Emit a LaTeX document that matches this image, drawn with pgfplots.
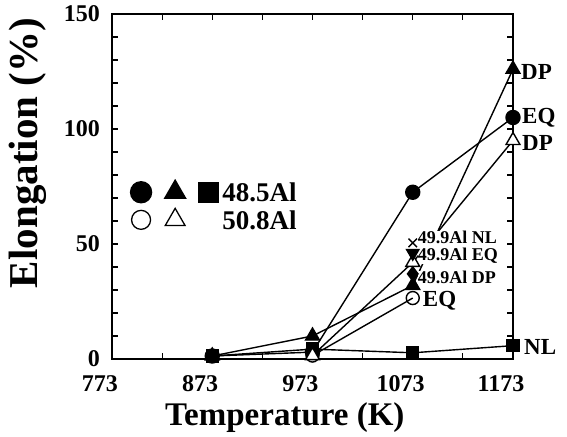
\documentclass[border=0pt]{standalone}
\usepackage{fontspec}
\setmainfont{Liberation Serif}
\usepackage{pgfplots}
\pgfplotsset{compat=1.18}
\begin{document}
\begin{tikzpicture}
\begin{axis}[
  name=ax,
  scale only axis,
  width=401pt, height=345pt,
  xmin=773, xmax=1173, ymin=0, ymax=150,
  xtick={773,873,973,1073,1173},
  ytick={0,50,100,150},
  minor x tick num=1,
  minor y tick num=4,
  tick align=inside,
  major tick length=6pt, minor tick length=6pt,
  axis line style={line width=1.6pt},
  every tick/.style={line width=1.2pt, black},
  /pgf/number format/assume math mode=true,
  /pgf/number format/1000 sep={},
  tick label style={font=\fontsize{24}{24}\selectfont\bfseries, inner sep=0pt},
  xticklabel style={anchor=north, yshift=-16pt, xshift=-12pt},
  yticklabel style={anchor=east, xshift=-12pt},
  xlabel={Temperature (K)},
  ylabel={Elongation (\%)},
  xlabel style={font=\fontsize{33}{33}\selectfont\bfseries, at={(axis description cs:0.431,-0.171)}, anchor=center, inner sep=0pt},
  ylabel style={font=\fontsize{41}{41}\selectfont\bfseries, at={(axis description cs:-0.21,0.597)}, anchor=center, inner sep=0pt},
  clip=false,
  every axis plot/.append style={line width=1.4pt, black},
]
% 48.5Al EQ (filled circle)
\addplot[mark=*, mark size=7pt, mark options={fill=black}] coordinates {(873,1.3) (973,3) (1073,72.5) (1173,105)};
% 48.5Al DP (filled triangle)
\addplot[mark=triangle*, mark size=8pt, mark options={fill=black}] coordinates {(873,1.3) (973,10) (1073,32) (1173,126)};
% 48.5Al NL (filled square)
\addplot[mark=square*, mark size=6pt, mark options={fill=black}] coordinates {(873,1.3) (973,4.3) (1073,2.7) (1173,5.8)};
% 50.8Al EQ (open circle)
\addplot[mark=o, mark size=6.5pt, mark options={fill=white}] coordinates {(973,1.5) (1073,26.5)};
% 50.8Al DP (open triangle)
\addplot[mark=triangle*, mark size=8pt, mark options={fill=white}] coordinates {(973,1.5) (1073,42) (1173,95)};
% 49.9Al points
\addplot[only marks, mark=x, mark size=6pt] coordinates {(1073,50.5)};
\addplot[only marks, mark=triangle*, mark size=7pt, mark options={fill=black, rotate=180}] coordinates {(1073,46)};
\addplot[only marks, mark=diamond*, mark size=7pt, mark options={fill=black}] coordinates {(1073,37)};
% legend markers
\addplot[only marks, mark=*, mark size=10.5pt, mark options={fill=black}] coordinates {(802,72.5)};
\addplot[only marks, mark=triangle*, mark size=12pt, mark options={fill=black}] coordinates {(836,72.5)};
\addplot[only marks, mark=square*, mark size=10pt, mark options={fill=black}] coordinates {(869,72.5)};
\addplot[only marks, mark=o, mark size=9.5pt, mark options={fill=white, line width=1.3pt}] coordinates {(802,60.5)};
\addplot[only marks, mark=triangle*, mark size=11.5pt, mark options={fill=white, line width=1.3pt}] coordinates {(836,60.5)};
% labels
\node[anchor=west, font=\fontsize{27}{27}\selectfont\bfseries, inner sep=0pt] at (axis cs:883,72.5) {48.5Al};
\node[anchor=west, font=\fontsize{27}{27}\selectfont\bfseries, inner sep=0pt] at (axis cs:883,60.5) {50.8Al};
\node[anchor=west, font=\fontsize{23}{23}\selectfont\bfseries, inner sep=0pt, xshift=8pt] at (axis cs:1173,125) {DP};
\node[anchor=west, font=\fontsize{23}{23}\selectfont\bfseries, inner sep=0pt, xshift=9pt] at (axis cs:1173,105) {EQ};
\node[anchor=west, font=\fontsize{23}{23}\selectfont\bfseries, inner sep=0pt, xshift=9pt] at (axis cs:1173,94) {DP};
\node[anchor=west, font=\fontsize{23}{23}\selectfont\bfseries, inner sep=0pt, xshift=11pt] at (axis cs:1173,5.3) {NL};
\node[anchor=west, font=\fontsize{23}{23}\selectfont\bfseries, inner sep=0pt, xshift=10pt] at (axis cs:1073,25.5) {EQ};
\node[anchor=west, font=\fontsize{18}{17.5}\selectfont\bfseries, fill=white, inner sep=0pt, xshift=5pt, align=left] at (axis cs:1073,48.6) {49.9Al NL\\49.9Al EQ};
\node[anchor=west, font=\fontsize{18}{18}\selectfont\bfseries, fill=white, inner sep=0pt, xshift=5pt] at (axis cs:1073,35.5) {49.9Al DP};
\end{axis}
\pgfresetboundingbox
\path (ax.south west) ++(-112pt,-77pt) rectangle ++(567pt,436pt);
\end{tikzpicture}
\end{document}
